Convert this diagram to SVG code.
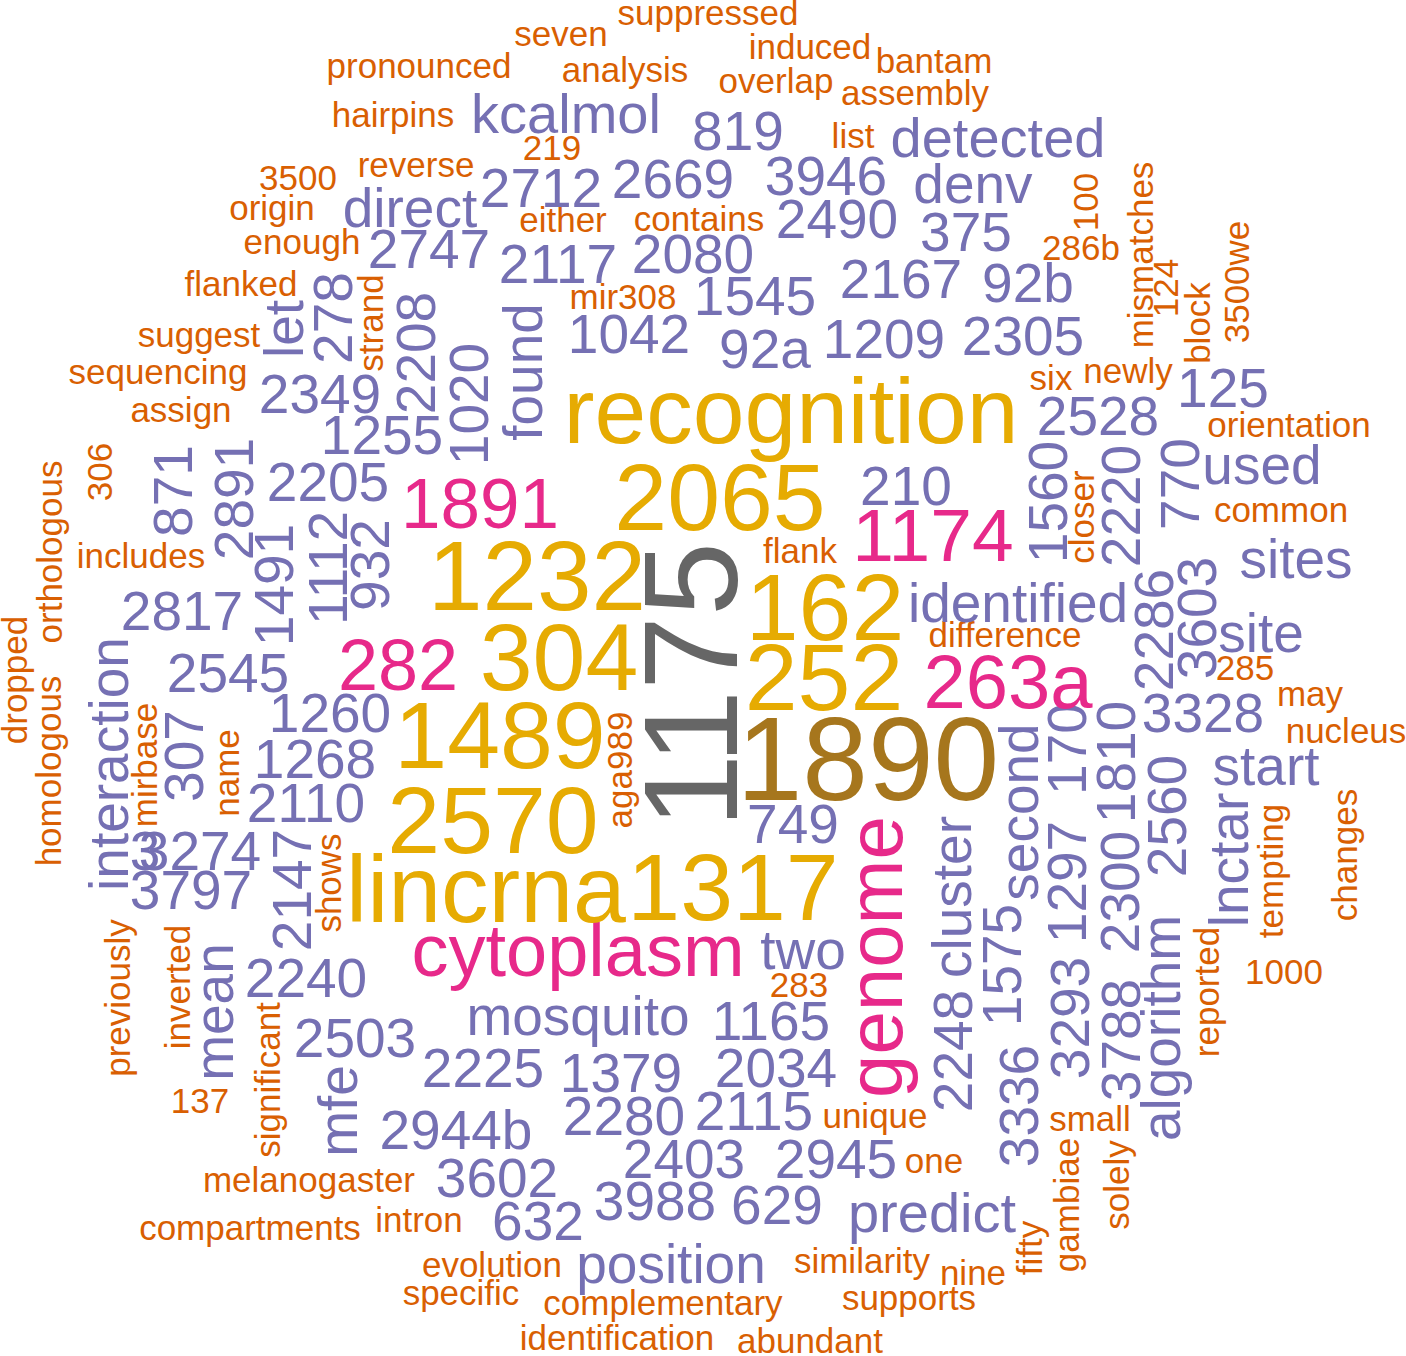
<svg xmlns="http://www.w3.org/2000/svg" width="1406" height="1356" viewBox="0 0 1406 1356">
<style>
text{font-family:"Liberation Sans",Arial,Helvetica,sans-serif;text-anchor:middle}
.o{fill:#D95F02;font-size:35px}
.p{fill:#7570B3;font-size:55px}
.k{fill:#E7298A}
.g{fill:#E6AB02;font-size:95px}
</style>
<rect width="1406" height="1356" fill="#ffffff"/>
<g id="orange">
<text class="o" x="419" y="78">pronounced</text>
<text class="o" x="393" y="127">hairpins</text>
<text class="o" x="416" y="177">reverse</text>
<text class="o" x="298" y="190">3500</text>
<text class="o" x="272" y="220">origin</text>
<text class="o" x="302" y="254">enough</text>
<text class="o" x="241" y="296">flanked</text>
<text class="o" x="199" y="347">suggest</text>
<text class="o" x="158" y="384">sequencing</text>
<text class="o" x="181" y="422">assign</text>
<text class="o" x="141" y="568">includes</text>
<text class="o" x="200" y="1113">137</text>
<text class="o" x="309" y="1192">melanogaster</text>
<text class="o" x="250" y="1240">compartments</text>
<text class="o" x="419" y="1232">intron</text>
<text class="o" x="492" y="1277">evolution</text>
<text class="o" x="461" y="1305">specific</text>
<text class="o" x="663" y="1315">complementary</text>
<text class="o" x="617" y="1350">identification</text>
<text class="o" x="810" y="1353">abundant</text>
<text class="o" x="862" y="1273">similarity</text>
<text class="o" x="909" y="1310">supports</text>
<text class="o" x="973" y="1285">nine</text>
<text class="o" x="934" y="1173">one</text>
<text class="o" x="875" y="1128">unique</text>
<text class="o" x="1090" y="1131">small</text>
<text class="o" x="1284" y="984">1000</text>
<text class="o" x="1346" y="743">nucleus</text>
<text class="o" x="1310" y="706">may</text>
<text class="o" x="1245" y="680">285</text>
<text class="o" x="1005" y="647">difference</text>
<text class="o" x="1281" y="522">common</text>
<text class="o" x="1289" y="437">orientation</text>
<text class="o" x="1051" y="390">six</text>
<text class="o" x="1128" y="383">newly</text>
<text class="o" x="1081" y="260">286b</text>
<text class="o" x="934" y="73">bantam</text>
<text class="o" x="915" y="105">assembly</text>
<text class="o" x="708" y="25">suppressed</text>
<text class="o" x="561" y="46">seven</text>
<text class="o" x="810" y="59">induced</text>
<text class="o" x="625" y="82">analysis</text>
<text class="o" x="776" y="93">overlap</text>
<text class="o" x="853" y="148">list</text>
<text class="o" x="552" y="160">219</text>
<text class="o" x="563" y="232">either</text>
<text class="o" x="699" y="231">contains</text>
<text class="o" x="623" y="309">mir308</text>
<text class="o" x="800" y="563">flank</text>
<text class="o" x="799" y="997">283</text>
<text class="o" transform="translate(112,472) rotate(-90)">306</text>
<text class="o" transform="translate(62,552) rotate(-90)">orthologous</text>
<text class="o" transform="translate(27,680) rotate(-90)">dropped</text>
<text class="o" transform="translate(61,771) rotate(-90)">homologous</text>
<text class="o" transform="translate(130,998) rotate(-90)">previously</text>
<text class="o" transform="translate(157,765) rotate(-90)">mirbase</text>
<text class="o" transform="translate(239,773) rotate(-90)">name</text>
<text class="o" transform="translate(341,883) rotate(-90)">shows</text>
<text class="o" transform="translate(190,987) rotate(-90)">inverted</text>
<text class="o" transform="translate(280,1080) rotate(-90)">significant</text>
<text class="o" transform="translate(1042,1248) rotate(-90)">fifty</text>
<text class="o" transform="translate(1079,1205) rotate(-90)">gambiae</text>
<text class="o" transform="translate(1129,1185) rotate(-90)">solely</text>
<text class="o" transform="translate(1219,992) rotate(-90)">reported</text>
<text class="o" transform="translate(1283,871) rotate(-90)">tempting</text>
<text class="o" transform="translate(1357,855) rotate(-90)">changes</text>
<text class="o" transform="translate(1094,517) rotate(-90)">closer</text>
<text class="o" transform="translate(1210,323) rotate(-90)">block</text>
<text class="o" transform="translate(1249,282) rotate(-90)">3500we</text>
<text class="o" transform="translate(1178,288) rotate(-90)">124</text>
<text class="o" transform="translate(1153,255) rotate(-90)">mismatches</text>
<text class="o" transform="translate(1098,202) rotate(-90)">100</text>
<text class="o" transform="translate(383,323) rotate(-90)">strand</text>
<text class="o" transform="translate(632,770) rotate(-90)">aga989</text>
</g>
<g id="purple">
<text class="p" x="566" y="133" style="font-size:56px">kcalmol</text>
<text class="p" x="738" y="150">819</text>
<text class="p" x="673" y="198">2669</text>
<text class="p" x="541" y="207">2712</text>
<text class="p" x="826" y="195">3946</text>
<text class="p" x="837" y="238">2490</text>
<text class="p" x="558" y="283">2117</text>
<text class="p" x="693" y="273">2080</text>
<text class="p" x="755" y="315">1545</text>
<text class="p" x="901" y="298">2167</text>
<text class="p" x="629" y="353">1042</text>
<text class="p" x="429" y="268">2747</text>
<text class="p" x="410" y="227">direct</text>
<text class="p" x="998" y="157" style="font-size:56px">detected</text>
<text class="p" x="973" y="203">denv</text>
<text class="p" x="966" y="251">375</text>
<text class="p" x="1028" y="302">92b</text>
<text class="p" x="1023" y="355">2305</text>
<text class="p" x="884" y="358">1209</text>
<text class="p" x="765" y="368">92a</text>
<text class="p" x="1223" y="407">125</text>
<text class="p" x="1098" y="435">2528</text>
<text class="p" x="1262" y="484">used</text>
<text class="p" x="1296" y="578">sites</text>
<text class="p" x="1018" y="622">identified</text>
<text class="p" x="1261" y="652">site</text>
<text class="p" x="1203" y="732">3328</text>
<text class="p" x="1266" y="785">start</text>
<text class="p" x="906" y="505">210</text>
<text class="p" x="793" y="843">749</text>
<text class="p" x="803" y="969">two</text>
<text class="p" x="771" y="1040">1165</text>
<text class="p" x="578" y="1035">mosquito</text>
<text class="p" x="483" y="1087">2225</text>
<text class="p" x="621" y="1092">1379</text>
<text class="p" x="776" y="1087">2034</text>
<text class="p" x="624" y="1135">2280</text>
<text class="p" x="754" y="1130">2115</text>
<text class="p" x="456" y="1149">2944b</text>
<text class="p" x="684" y="1178">2403</text>
<text class="p" x="836" y="1178">2945</text>
<text class="p" x="497" y="1197">3602</text>
<text class="p" x="538" y="1240">632</text>
<text class="p" x="655" y="1220">3988</text>
<text class="p" x="777" y="1224">629</text>
<text class="p" x="932" y="1232" style="font-size:56px">predict</text>
<text class="p" x="671" y="1283">position</text>
<text class="p" x="355" y="1057">2503</text>
<text class="p" x="306" y="997">2240</text>
<text class="p" x="306" y="822">2110</text>
<text class="p" x="315" y="778">1268</text>
<text class="p" x="330" y="732">1260</text>
<text class="p" x="228" y="692">2545</text>
<text class="p" x="182" y="630">2817</text>
<text class="p" x="145" y="870">3</text>
<text class="p" x="200" y="870">3274</text>
<text class="p" x="191" y="909">3797</text>
<text class="p" x="328" y="501">2205</text>
<text class="p" x="382" y="454">1255</text>
<text class="p" x="320" y="413">2349</text>
<text class="p" transform="translate(233,1012) rotate(-90)">mean</text>
<text class="p" transform="translate(357,1111) rotate(-90)">mfe</text>
<text class="p" transform="translate(311,890) rotate(-90)">2147</text>
<text class="p" transform="translate(203,756) rotate(-90)">307</text>
<text class="p" transform="translate(128,764) rotate(-90)">interaction</text>
<text class="p" transform="translate(192,491) rotate(-90)">871</text>
<text class="p" transform="translate(253,499) rotate(-90)">2891</text>
<text class="p" transform="translate(293,585) rotate(-90)">1491</text>
<text class="p" transform="translate(347,568) rotate(-90)">1112</text>
<text class="p" transform="translate(389,565) rotate(-90)">932</text>
<text class="p" transform="translate(303,329) rotate(-90)">let</text>
<text class="p" transform="translate(352,318) rotate(-90)">278</text>
<text class="p" transform="translate(435,353) rotate(-90)">2208</text>
<text class="p" transform="translate(488,404) rotate(-90)">1020</text>
<text class="p" transform="translate(542,372) rotate(-90)">found</text>
<text class="p" transform="translate(1067,502) rotate(-90)">1560</text>
<text class="p" transform="translate(1140,506) rotate(-90)">2220</text>
<text class="p" transform="translate(1199,484) rotate(-90)">770</text>
<text class="p" transform="translate(1173,630) rotate(-90)">2286</text>
<text class="p" transform="translate(1216,618) rotate(-90)">3603</text>
<text class="p" transform="translate(1135,762) rotate(-90)">1810</text>
<text class="p" transform="translate(1139,892) rotate(-90)">2300</text>
<text class="p" transform="translate(1140,1040) rotate(-90)">3788</text>
<text class="p" transform="translate(1186,816) rotate(-90)">2560</text>
<text class="p" transform="translate(1248,860) rotate(-90)">lnctar</text>
<text class="p" transform="translate(1180,1028) rotate(-90)">algorithm</text>
<text class="p" transform="translate(1038,812) rotate(-90)">second</text>
<text class="p" transform="translate(1086,749) rotate(-90)">170</text>
<text class="p" transform="translate(1086,882) rotate(-90)">1297</text>
<text class="p" transform="translate(1089,1018) rotate(-90)">3293</text>
<text class="p" transform="translate(1038,1106) rotate(-90)">3336</text>
<text class="p" transform="translate(1021,965) rotate(-90)">1575</text>
<text class="p" transform="translate(971,897) rotate(-90)">cluster</text>
<text class="p" transform="translate(972,1051) rotate(-90)">2248</text>
</g>
<g id="pink">
<text class="k" transform="translate(902,957) rotate(-90)" style="font-size:78px">genome</text>
<text class="k" x="578" y="976" style="font-size:74px">cytoplasm</text>
<text class="k" x="480" y="528" style="font-size:71px">1891</text>
<text class="k" x="398" y="690" style="font-size:72px">282</text>
<text class="k" x="933" y="561" style="font-size:75px">1174</text>
<text class="k" x="1008" y="708" style="font-size:76px">263a</text>
</g>
<g id="gold">
<text class="g" x="791" y="443" style="font-size:93px">recognition</text>
<text class="g" x="720" y="530">2065</text>
<text class="g" x="537" y="610" style="font-size:98px">1232</text>
<text class="g" x="825" y="640">162</text>
<text class="g" x="559" y="690">304</text>
<text class="g" x="824" y="710">252</text>
<text class="g" x="500" y="768">1489</text>
<text class="g" x="493" y="853">2570</text>
<text class="g" x="486" y="922">lincrna</text>
<text class="g" x="733" y="920">1317</text>
</g>
<g id="top">
<text transform="translate(737,685) rotate(-90)" style="font-size:133px;fill:#666666">1175</text>
<text x="868" y="800" style="font-size:118px;fill:#A6761D">1890</text>
</g>
</svg>
